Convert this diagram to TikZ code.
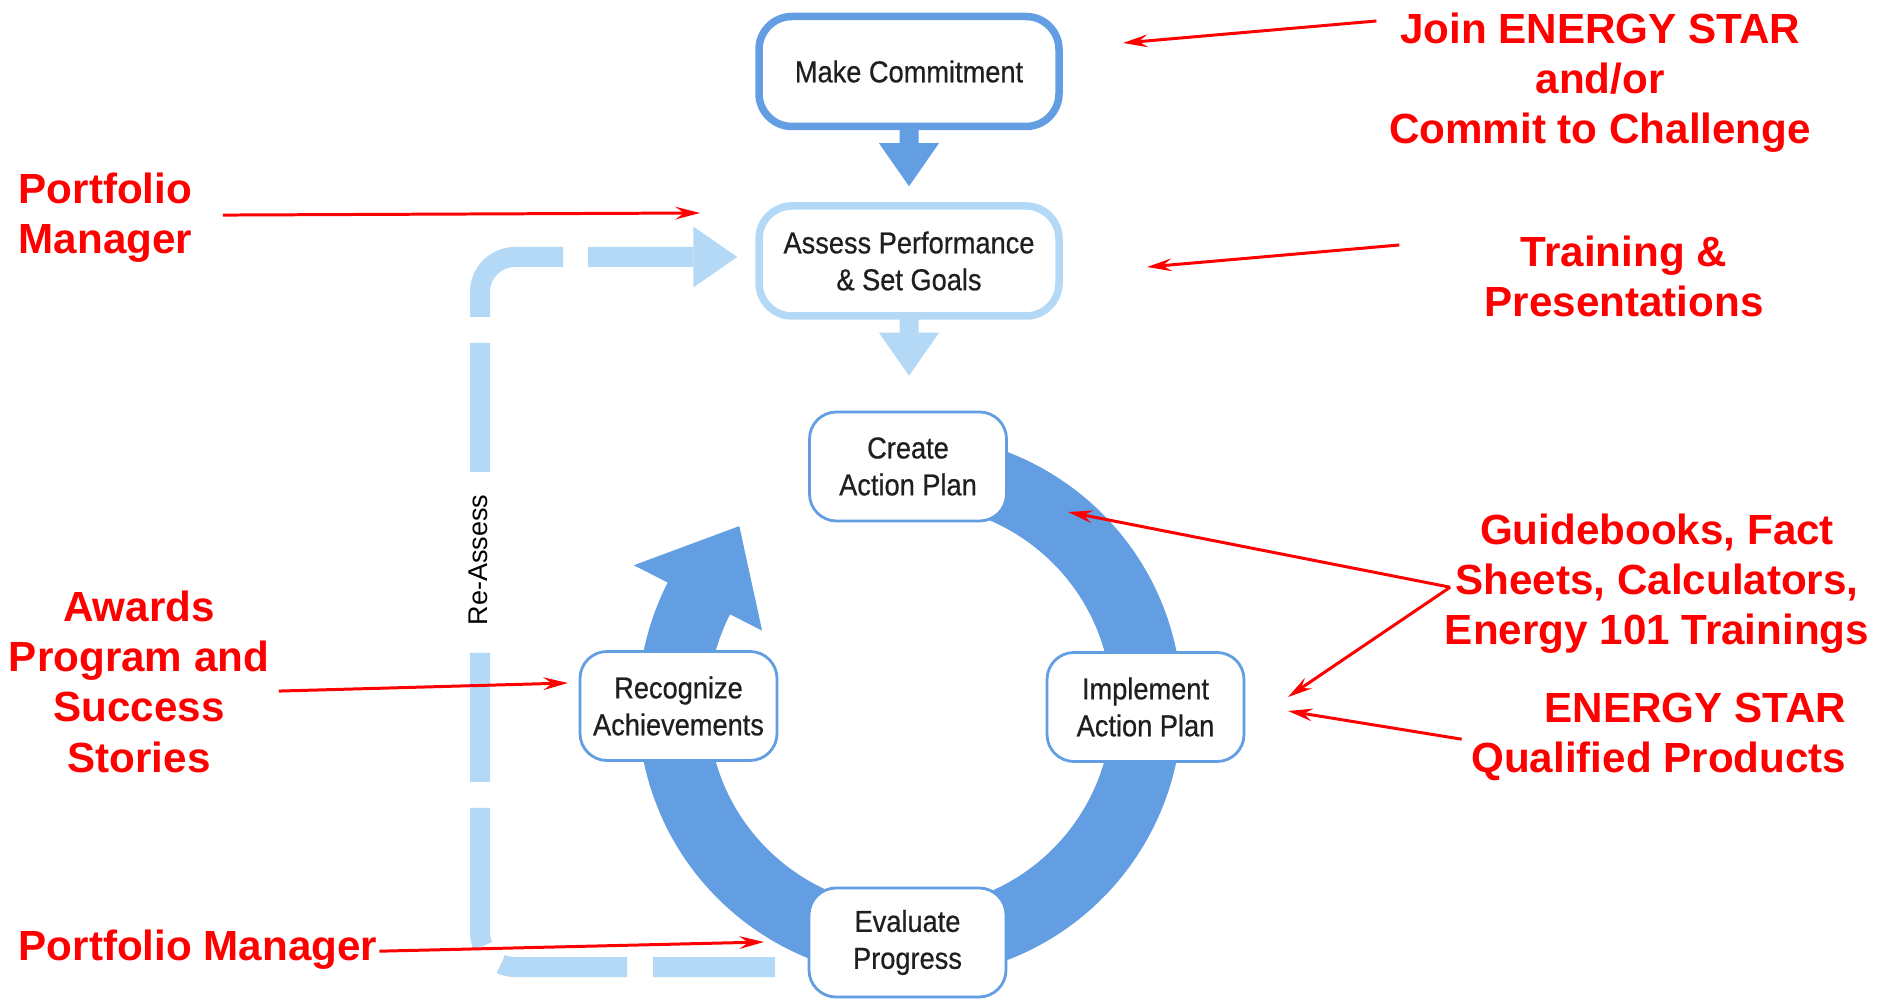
\documentclass[tikz,border=0pt]{standalone}
\usepackage{fontspec}
\setmainfont{Liberation Sans}
\newfontfamily\boxfont{Liberation Sans}[FakeStretch=0.90,FakeBold=0.6]
\usetikzlibrary{calc,arrows.meta}
\definecolor{ringblue}{RGB}{99,158,226}
\definecolor{paleblue}{RGB}{180,217,247}
\tikzset{
	stepnode/.style={draw=ringblue, line width=0.8pt, fill=white, rounded corners=0.27cm, minimum width=1.97cm, minimum height=1.09cm, inner sep=0pt, align=center, text=black!88, font=\boxfont\fontsize{8.6}{10.5}\selectfont},
	bigstep/.style={stepnode, line width=0.075cm, rounded corners=0.33cm, minimum width=3.0cm, minimum height=1.10cm},
	note/.style={text=red, inner sep=0pt, font=\fontsize{12}{14.3}\selectfont\bfseries},
	pointer/.style={red, line width=0.85pt, -{Stealth[length=7pt,width=3.6pt,inset=2.5pt]}},
	reassess/.style={draw=paleblue, line width=0.2cm, rounded corners=0.35cm, dash pattern=on 1.22cm off 0.26cm on 1.265cm off 0.26cm on 1.385cm off 0.26cm on 1.29cm off 1.81cm on 1.29cm off 0.26cm on 1.28cm off 0.25cm on 3cm off 0cm, -{Triangle[width=0.61cm,length=0.44cm,line width=0pt]}}
}
\def\blockarrow[#1](#2){\fill[#1] ($(#2)+(-0.095,0.01)$) -- ++(0.19,0) -- ++(0,-0.14) -- ++(0.205,0) -- ++(-0.30,-0.43) -- ++(-0.30,0.43) -- ++(0.205,0) -- cycle;}

\begin{document}
\begin{tikzpicture}
		%%%%% START %%%%%
		
		\fill[white] (0,0) rectangle (18.92,9.99);
		\useasboundingbox (0,0) rectangle (18.92,9.99);
		
		% cycle ring
		\coordinate (hub) at (9.10,2.93);
		\draw[ringblue, line width=0.70cm] (hub) ++(100:2.37) arc[start angle=100, end angle=-207.5, radius=2.37];
		\fill[ringblue] ($(hub)+(153:3.10)$) -- ($(hub)+(133.5:2.48)$) -- ($(hub)+(153:1.66)$) -- cycle;
		
		% re-assess loop
		\coordinate (loopstart) at (7.75,0.32);
		\node[font=\fontsize{7.7}{9}\selectfont, rotate=90] (reassesslbl) at (4.78,4.39) {Re-Assess};
		
		\node[bigstep, draw=ringblue] (commit) at (9.09,9.275) {Make Commitment};
		\node[bigstep, draw=paleblue] (assess) at (9.09,7.38) {Assess Performance\\\& Set Goals};
		\node[stepnode] (create) at (9.08,5.325) {Create\\Action Plan};
		\node[stepnode] (implement) at (11.455,2.92) {Implement\\Action Plan};
		\node[stepnode] (evaluate) at (9.075,0.565) {Evaluate\\Progress};
		\node[stepnode] (recognize) at (6.785,2.93) {Recognize\\Achievements};
		
		\draw[reassess] (loopstart) -- ++(-2.95,0) |- ($(assess.west)+(-0.18,0.04)$);
		
		\blockarrow[ringblue](commit.south)
		\blockarrow[paleblue](assess.south)
		
		% red notes
		\node[note, align=center, anchor=north] (joinlbl) at (16.00,9.87) {Join ENERGY STAR\\and/or\\Commit to Challenge};
		\node[note, align=center, anchor=north] (traininglbl) at (16.24,7.64) {Training \&\\Presentations};
		\node[note, align=left, anchor=north west] (portfoliotop) at (0.18,8.27) {Portfolio\\Manager};
		\node[note, align=center, anchor=north] (awards) at (1.39,4.09) {Awards\\Program and\\Success\\Stories};
		\node[note, anchor=base west] (portfoliobot) at (0.18,0.39) {Portfolio Manager};
		\node[note, align=center, anchor=north] (guide) at (16.57,4.86) {Guidebooks, Fact\\Sheets, Calculators,\\Energy 101 Trainings};
		\node[note, align=right, anchor=north east] (qualified) at (18.47,3.07) {ENERGY STAR\\Qualified Products};
		
		\coordinate (tipcommit) at (11.23,9.56);
		\coordinate (tipassess) at (11.47,7.32);
		\coordinate (tipporttop) at (7.00,7.86);
		\coordinate (tipawards) at (5.68,3.16);
		\coordinate (tipportbot) at (7.64,0.57);
		\coordinate (tipring) at (10.68,4.87);
		\coordinate (tipimplA) at (12.88,3.02);
		\coordinate (tipimplB) at (12.88,2.88);
		\coordinate (fork) at ($(guide.west)+(0.06,-0.035)$);
		
		\draw[pointer] ($(joinlbl.north west)+(-0.12,-0.09)$) -- (tipcommit);
		\draw[pointer] ($(traininglbl.north west)+(-0.845,-0.10)$) -- (tipassess);
		\draw[pointer] ($(portfoliotop.east)+(0.30,0.025)$) -- (tipporttop);
		\draw[pointer] ($(awards.east)+(0.09,-0.095)$) -- (tipawards);
		\draw[pointer] ($(portfoliobot.east)+(0.015,-0.02)$) -- (tipportbot);
		\draw[pointer] (fork) -- (tipring);
		\draw[pointer] (fork) -- (tipimplA);
		\draw[pointer] ($(qualified.west)+(-0.09,-0.025)$) -- (tipimplB);
		
		%%%%% END %%%%%
	\end{tikzpicture}
\end{document}
